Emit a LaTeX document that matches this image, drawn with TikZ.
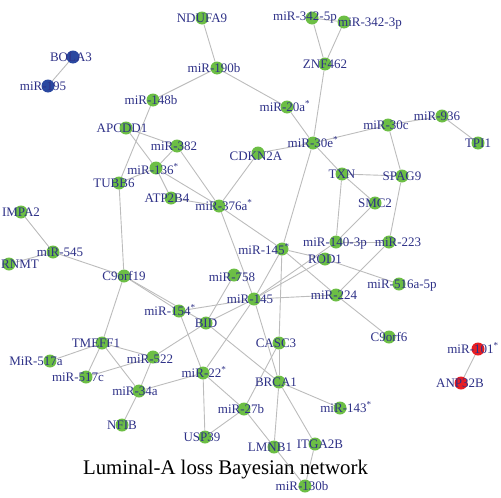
\documentclass[tikz,border=0pt]{standalone}
\usepackage{fontspec}
\setmainfont{Liberation Serif}
\usetikzlibrary{backgrounds}

\definecolor{nodegreen}{RGB}{108,190,69}
\definecolor{nodeblue}{RGB}{42,72,160}
\definecolor{nodered}{RGB}{232,30,35}
\definecolor{labblue}{RGB}{46,49,135}
\definecolor{edgegray}{RGB}{188,188,188}

\begin{document}
\begin{tikzpicture}[
    x=1pt, y=-1pt,
    gn/.style={circle, fill=nodegreen, minimum size=13pt, inner sep=0pt},
    bn/.style={gn, fill=nodeblue},
    rn/.style={gn, fill=nodered},
    lab/.style={font=\fontsize{13}{13}\selectfont, text=labblue, inner sep=0pt, text height=8.6pt, text depth=0pt},
    edge/.style={draw=edgegray, line width=0.9pt}
]
\useasboundingbox (0,0) rectangle (501,498);

% isolated pairs
\node[bn, label={[lab,xshift=-2pt]center:BOLA3}] (bola3) at (73,57) {};
\node[bn, label={[lab,xshift=-5pt]center:miR-195}] (m195) at (48,86) {};
\node[rn, label={[lab,xshift=-5pt]center:miR-101\textsuperscript{*}}] (m101) at (478,349) {};
\node[rn, label={[lab,xshift=-1pt]center:ANP32B}] (anp32b) at (461,383) {};

% upper part
\node[gn, label={[lab]center:NDUFA9}] (ndufa9) at (202,18) {};
\node[gn, label={[lab,xshift=-3pt]center:miR-190b}] (m190b) at (217,68) {};
\node[gn, label={[lab,xshift=-7pt,yshift=2pt]center:miR-342-5p}] (m342a) at (312,18) {};
\node[gn, label={[lab,xshift=26pt]center:miR-342-3p}] (m342b) at (344,22) {};
\node[gn, label={[lab]center:ZNF462}] (znf462) at (325,64) {};
\node[gn, label={[lab,xshift=-2pt]center:miR-20a\textsuperscript{*}}] (m20a) at (287,107) {};
\node[gn, label={[lab]center:miR-30e\textsuperscript{*}}] (m30e) at (313,143) {};
\node[gn, label={[lab,xshift=-2pt,yshift=-3pt]center:CDKN2A}] (cdkn2a) at (258,153) {};
\node[gn, label={[lab,xshift=-2pt]center:miR-148b}] (m148b) at (153,100) {};
\node[gn, label={[lab,xshift=-4pt]center:APCDD1}] (apcdd1) at (126,128) {};
\node[gn, label={[lab,xshift=-3pt]center:miR-382}] (m382) at (177,146) {};
\node[gn, label={[lab,xshift=-3pt,yshift=-2pt]center:miR-136\textsuperscript{*}}] (m136) at (156,168) {};
\node[gn, label={[lab,xshift=-5pt]center:TUBB6}] (tubb6) at (119,183) {};
\node[gn, label={[lab,xshift=-4pt]center:ATP2B4}] (atp2b4) at (171,198) {};
\node[gn, label={[lab,xshift=5pt]center:miR-376a\textsuperscript{*}}] (m376a) at (219,206) {};
\node[gn, label={[lab,xshift=-2pt]center:miR-30c}] (m30c) at (388,125) {};
\node[gn, label={[lab,xshift=-5pt]center:miR-936}] (m936) at (442,116) {};
\node[gn, label={[lab]center:TPI1}] (tpi1) at (478,143) {};
\node[gn, label={[lab]center:TXN}] (txn) at (342,174) {};
\node[gn, label={[lab]center:SPAG9}] (spag9) at (402,176) {};
\node[gn, label={[lab]center:SMC2}] (smc2) at (375,203) {};
\node[gn, label={[lab,xshift=-1pt]center:miR-140-3p}] (m140) at (336,242) {};
\node[gn, label={[lab,xshift=9pt]center:miR-223}] (m223) at (389,242) {};

% middle part
\node[gn, label={[lab,xshift=-18pt,yshift=-1pt]center:miR-145\textsuperscript{*}}] (m145s) at (282,249) {};
\node[gn, label={[lab]center:ROD1}] (rod1) at (325,259) {};
\node[gn, label={[lab,xshift=3pt]center:miR-516a-5p}] (m516) at (399,284) {};
\node[gn, label={[lab,xshift=-2pt,yshift=-2pt]center:miR-758}] (m758) at (234,275) {};
\node[gn, label={[lab,xshift=-4pt]center:miR-145}] (m145) at (254,299) {};
\node[gn, label={[lab,xshift=-2pt]center:miR-224}] (m224) at (336,295) {};
\node[gn, label={[lab]center:C9orf6}] (c9orf6) at (389,337) {};
\node[gn, label={[lab]center:IMPA2}] (impa2) at (21,212) {};
\node[gn, label={[lab,xshift=7pt]center:miR-545}] (m545) at (53,252) {};
\node[gn, label={[lab,xshift=11pt]center:RNMT}] (rnmt) at (9,264) {};
\node[gn, label={[lab]center:C9orf19}] (c9orf19) at (124,276) {};
\node[gn, label={[lab,xshift=-9pt]center:miR-154\textsuperscript{*}}] (m154) at (179,311) {};
\node[gn, label={[lab]center:BID}] (bid) at (206,323) {};

% lower part
\node[gn, label={[lab,xshift=-6pt]center:TMEFF1}] (tmeff1) at (102,343) {};
\node[gn, label={[lab,xshift=-14pt]center:MiR-517a}] (m517a) at (50,361) {};
\node[gn, label={[lab,xshift=-8pt]center:miR-517c}] (m517c) at (86,377) {};
\node[gn, label={[lab,xshift=-3pt,yshift=-2pt]center:miR-522}] (m522) at (153,357) {};
\node[gn, label={[lab,xshift=-4pt]center:miR-34a}] (m34a) at (139,391) {};
\node[gn, label={[lab]center:NFIB}] (nfib) at (122,425) {};
\node[gn, label={[lab,xshift=1pt]center:miR-22\textsuperscript{*}}] (m22) at (203,373) {};
\node[gn, label={[lab,xshift=-3pt]center:CASC3}] (casc3) at (279,343) {};
\node[gn, label={[lab,xshift=-3pt]center:BRCA1}] (brca1) at (279,382) {};
\node[gn, label={[lab,xshift=-3pt]center:miR-27b}] (m27b) at (244,409) {};
\node[gn, label={[lab,xshift=-3pt]center:USP39}] (usp39) at (205,437) {};
\node[gn, label={[lab,xshift=-4pt]center:LMNB1}] (lmnb1) at (274,447) {};
\node[gn, label={[lab,xshift=5pt]center:ITGA2B}] (itga2b) at (315,444) {};
\node[gn, label={[lab,xshift=-3pt]center:miR-130b}] (m130b) at (305,486) {};
\node[gn, label={[lab,xshift=6pt]center:miR-143\textsuperscript{*}}] (m143) at (340,408) {};

\node[font=\fontsize{20.8}{21}\selectfont, anchor=base, inner sep=0pt] (title) at (225.5,474) {Luminal-A loss Bayesian network};

\begin{pgfonlayer}{background}
\draw[edge] (bola3) -- (m195);
\draw[edge] (m101) -- (anp32b);
\draw[edge] (ndufa9) -- (m190b);
\draw[edge] (m190b) -- (m148b);
\draw[edge] (m190b) -- (m20a);
\draw[edge] (m342a) -- (m342b);
\draw[edge] (m342a) -- (znf462);
\draw[edge] (m342b) -- (znf462);
\draw[edge] (znf462) -- (m30e);
\draw[edge] (m20a) -- (m30e);
\draw[edge] (m30e) -- (cdkn2a);
\draw[edge] (m30e) -- (m30c);
\draw[edge] (m30e) -- (txn);
\draw[edge] (m30e) -- (m145s);
\draw[edge] (m30c) -- (m936);
\draw[edge] (m936) -- (tpi1);
\draw[edge] (m30c) -- (spag9);
\draw[edge] (txn) -- (spag9);
\draw[edge] (txn) -- (smc2);
\draw[edge] (txn) -- (m140);
\draw[edge] (smc2) -- (m140);
\draw[edge] (m140) -- (m223);
\draw[edge] (spag9) -- (m223);
\draw[edge] (m223) -- (m224);
\draw[edge] (m224) -- (c9orf6);
\draw[edge] (m148b) -- (tubb6);
\draw[edge] (apcdd1) -- (m382);
\draw[edge] (apcdd1) -- (m136);
\draw[edge] (m382) -- (m136);
\draw[edge] (m382) -- (m376a);
\draw[edge] (m136) -- (tubb6);
\draw[edge] (m136) -- (atp2b4);
\draw[edge] (m136) -- (m376a);
\draw[edge] (atp2b4) -- (m376a);
\draw[edge] (cdkn2a) -- (m376a);
\draw[edge] (m376a) -- (m145s);
\draw[edge] (m376a) -- (m145);
\draw[edge] (m145s) -- (rod1);
\draw[edge] (m145s) -- (m224);
\draw[edge] (m145s) -- (casc3);
\draw[edge] (m145s) -- (m145);
\draw[edge] (rod1) -- (m516);
\draw[edge] (m145) -- (rod1);
\draw[edge] (m145) -- (m140);
\draw[edge] (m145) -- (m224);
\draw[edge] (m145) -- (bid);
\draw[edge] (m145) -- (m154);
\draw[edge] (m145) -- (m22);
\draw[edge] (m145) -- (brca1);
\draw[edge] (m758) -- (bid);
\draw[edge] (tubb6) -- (c9orf19);
\draw[edge] (impa2) -- (m545);
\draw[edge] (m545) -- (rnmt);
\draw[edge] (m545) -- (c9orf19);
\draw[edge] (c9orf19) -- (m154);
\draw[edge] (c9orf19) -- (bid);
\draw[edge] (c9orf19) -- (tmeff1);
\draw[edge] (m154) -- (m22);
\draw[edge] (bid) -- (m522);
\draw[edge] (bid) -- (brca1);
\draw[edge] (tmeff1) -- (m517a);
\draw[edge] (tmeff1) -- (m517c);
\draw[edge] (tmeff1) -- (m522);
\draw[edge] (tmeff1) -- (m34a);
\draw[edge] (m517c) -- (m522);
\draw[edge] (m522) -- (m34a);
\draw[edge] (m34a) -- (nfib);
\draw[edge] (m34a) -- (m22);
\draw[edge] (m22) -- (usp39);
\draw[edge] (m22) -- (m27b);
\draw[edge] (usp39) -- (m27b);
\draw[edge] (m27b) -- (casc3);
\draw[edge] (m27b) -- (m130b);
\draw[edge] (casc3) -- (brca1);
\draw[edge] (brca1) -- (lmnb1);
\draw[edge] (brca1) -- (itga2b);
\draw[edge] (brca1) -- (m143);
\draw[edge] (itga2b) -- (m130b);
\end{pgfonlayer}

\end{tikzpicture}
\end{document}
